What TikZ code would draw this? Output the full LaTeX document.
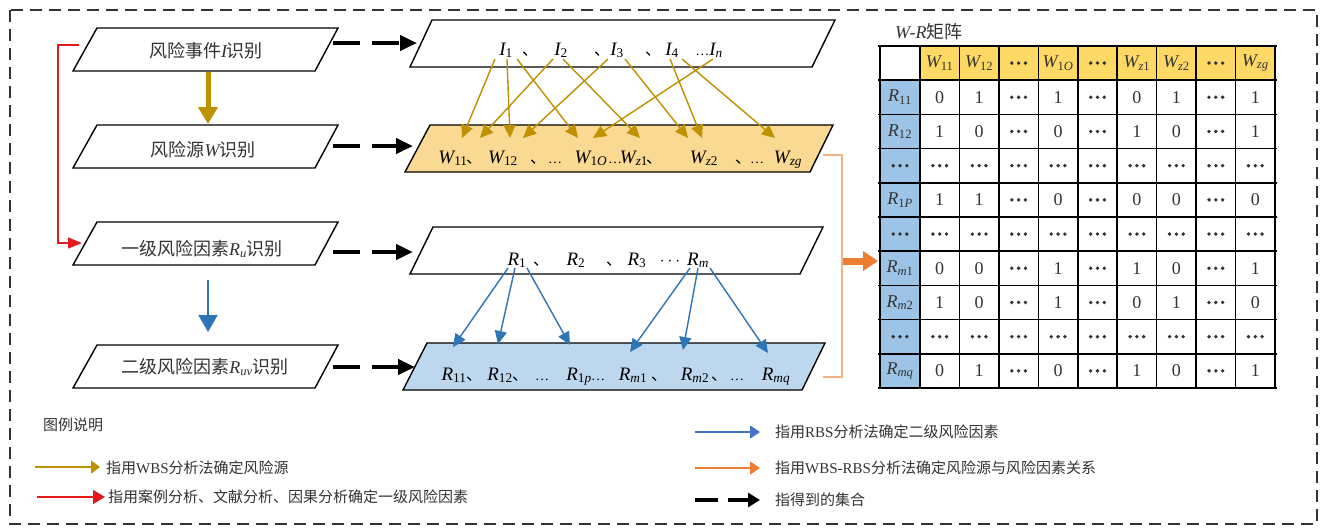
\documentclass[tikz,border=0pt]{standalone}
\usepackage{fontspec}
\newfontfamily\cjk{Noto Sans CJK SC}
\newfontfamily\tnr{Liberation Serif}
\usetikzlibrary{arrows.meta}
\definecolor{gold}{HTML}{BF9000}
\definecolor{goldfill}{HTML}{FADA92}
\definecolor{hdrgold}{HTML}{FFD966}
\definecolor{blu}{HTML}{2E75B6}
\definecolor{blulg}{HTML}{4472C4}
\definecolor{blufill}{HTML}{BDD7EE}
\definecolor{hdrblue}{HTML}{9DC3E6}
\definecolor{org}{HTML}{ED7D31}
\definecolor{orgl}{HTML}{F4B183}
\definecolor{redc}{HTML}{E31A1C}
\definecolor{txt}{HTML}{333333}
\newcommand\mvar[1]{{\tnr\itshape #1}}
\newcommand\msub[2]{{\tnr\itshape #1\textsubscript{\upshape #2}}}
\newcommand\bdots{\tikz[baseline=-2pt]{\fill (0pt,0pt) circle (1.9pt) (6.8pt,0pt) circle (1.9pt) (13.6pt,0pt) circle (1.9pt);}}
\newcommand\dun{\makebox[0.45em][l]{、}}
\begin{document}
\begin{tikzpicture}[x=1pt,y=-1pt,
  lbox/.style={draw=black, line width=1.4pt, line join=miter},
  ltext/.style={font=\cjk\fontsize{18}{20}\selectfont, text=txt, inner sep=0pt},
  tok/.style={font=\tnr\fontsize{19}{21}\selectfont, inner sep=0pt, anchor=base},
  sepc/.style={font=\cjk\fontsize{16}{18}\selectfont, inner sep=0pt, anchor=base west},
  cell/.style={font=\tnr\fontsize{18}{20}\selectfont, text=txt, inner sep=0pt, anchor=center},
  lgt/.style={font=\cjk\fontsize{15}{17}\selectfont, text=txt, inner sep=0pt, anchor=west},
  darrow/.style={line width=4.5pt, dash pattern=on 27pt off 12pt, -{Triangle[length=17pt,width=15pt]}},
  garrow/.style={gold, line width=1.4pt, -{Triangle[length=13pt,width=12pt]}},
  barrow/.style={blu, line width=1.4pt, -{Triangle[length=13pt,width=12pt]}}]
\useasboundingbox (0,0) rectangle (1324,531);
\fill[white] (0,0) rectangle (1324,531);
\draw[txt, line width=1.3pt, dash pattern=on 12pt off 7pt] (10,10) rectangle (1317,524);

% left boxes
\foreach \t/\b in {28/71,125/168,222/265,345/388}
  \draw[lbox] (97,\t) -- (338,\t) -- (315,\b) -- (73,\b) -- cycle;
\node[ltext] (L1) at (206,51) {风险事件\mvar{I}识别};
\node[ltext] (L2) at (203,150) {风险源\mvar{W}识别};
\node[ltext] (L3) at (202,249) {一级风险因素\msub{R}{\textit{u}}识别};
\node[ltext] (L4) at (205,367) {二级风险因素\msub{R}{\textit{uv}}识别};

% right boxes
\draw[lbox] (432,20) -- (835,20) -- (812,67) -- (410,67) -- cycle;
\draw[lbox, fill=goldfill] (430,125) -- (833,125) -- (810,172) -- (405,172) -- cycle;
\draw[lbox] (433,227) -- (823,227) -- (800,274) -- (410,274) -- cycle;
\draw[lbox, fill=blufill] (427,343) -- (825,343) -- (802,390) -- (403,390) -- cycle;

% row 1 tokens
\node[tok] (i1) at (506,55) {\msub{I}{1}};
\node[sepc] (s11) at (522,55) {\dun};
\node[tok] (i2) at (561,55) {\msub{I}{2}};
\node[sepc] (s12) at (594,55) {\dun};
\node[tok] (i3) at (617,55) {\msub{I}{3}};
\node[sepc] (s13) at (645,55) {\dun};
\node[tok] (i4) at (672,55) {\msub{I}{4}};
\node[tok] (in) at (709,55) {{\fontsize{14}{14}\selectfont …}\msub{I}{\textit{n}}};

% row 2 tokens
\node[tok] (w11) at (453,163) {\msub{W}{11}};
\node[sepc] (s21) at (466,163) {\dun};
\node[tok] (w12) at (503,163) {\msub{W}{12}};
\node[sepc] (s22) at (530,163) {\dun};
\node[tok] (e21) at (555,163) {{\fontsize{14}{14}\selectfont …}};
\node[tok] (w1o) at (591,163) {\msub{W}{1\textit{O}}};
\node[tok] (e22) at (615,163) {{\fontsize{14}{14}\selectfont …}};
\node[tok] (wz1) at (634,163) {\msub{W}{\textit{z}1}};
\node[sepc] (s23) at (646,163) {\dun};
\node[tok] (wz2) at (704,163) {\msub{W}{\textit{z}2}};
\node[sepc] (s24) at (735,163) {\dun};
\node[tok] (e23) at (757,163) {{\fontsize{14}{14}\selectfont …}};
\node[tok] (wzg) at (788,163) {\msub{W}{\textit{zg}}};

% row 3 tokens
\node[tok] (r1) at (517,265) {\msub{R}{1}};
\node[sepc] (s31) at (533,265) {\dun};
\node[tok] (r2) at (576,265) {\msub{R}{2}};
\node[sepc] (s32) at (606,265) {\dun};
\node[tok] (r3) at (637,265) {\msub{R}{3}};
\node[tok] (e31) at (670,265) {$\cdots$};
\node[tok] (rm) at (698,265) {\msub{R}{\textit{m}}};

% row 4 tokens
\node[tok] (r11) at (454,380) {\msub{R}{11}};
\node[sepc] (s41) at (466,380) {\dun};
\node[tok] (r12) at (500,380) {\msub{R}{12}};
\node[sepc] (s42) at (512,380) {\dun};
\node[tok] (e41) at (542,380) {{\fontsize{14}{14}\selectfont …}};
\node[tok] (r1p) at (579,380) {\msub{R}{1\textit{p}}};
\node[tok] (e42) at (598,380) {{\fontsize{14}{14}\selectfont …}};
\node[tok] (rm1) at (633,380) {\msub{R}{\textit{m}1}};
\node[sepc] (s43) at (651,380) {\dun};
\node[tok] (rm2) at (695,380) {\msub{R}{\textit{m}2}};
\node[sepc] (s44) at (711,380) {\dun};
\node[tok] (e43) at (737,380) {{\fontsize{14}{14}\selectfont …}};
\node[tok] (rmq) at (776,380) {\msub{R}{\textit{mq}}};

% gold arrows I -> W
\foreach \sx/\ex [count=\k] in {495/462, 507/510, 517/578, 553/480, 563/640, 608/523, 625/688, 670/702, 682/775, 713/593}{
  \coordinate (gs\k) at (\sx,59);
  \coordinate (ge\k) at (\ex,138);
  \draw[garrow] (gs\k) -- (ge\k);
}
% blue arrows R -> R
\foreach \sx/\ex/\ey [count=\k] in {508/453/347, 515/498/344, 527/570/345, 690/630/352, 698/683/350, 710/768/353}{
  \coordinate (bs\k) at (\sx,268);
  \coordinate (be\k) at (\ex,\ey);
  \draw[barrow] (bs\k) -- (be\k);
}

% dashed arrows
\foreach \y/\tx [count=\k] in {43/417, 146/413, 252/413, 367/415}{
  \coordinate (ds\k) at (333,\y);
  \coordinate (de\k) at (\tx,\y);
  \draw[darrow] (ds\k) -- (de\k);
}

% vertical arrows
\coordinate (g1) at (208,72); \coordinate (g2) at (208,124);
\draw[gold, line width=5pt, -{Triangle[length=17pt,width=19pt]}] (g1) -- (g2);
\coordinate (b1) at (208,280); \coordinate (b2) at (208,332);
\draw[blu, line width=2pt, -{Triangle[length=17pt,width=19pt]}] (b1) -- (b2);

% red connector
\coordinate (rs) at (79,45); \coordinate (re) at (82,243);
\draw[redc, line width=1.4pt, -{Triangle[length=14pt,width=11pt]}] (rs) -- (58,45) -- (58,243) -- (re);

% orange bracket and arrow
\coordinate (o1) at (823,155); \coordinate (o2) at (823,377);
\draw[orgl, line width=1.5pt] (o1) -- (842,155) -- (842,377) -- (o2);
\coordinate (oa) at (843,261); \coordinate (ob) at (878,261);
\draw[org, line width=7pt, -{Triangle[length=15pt,width=19pt]}] (oa) -- (ob);

% matrix
\node[font=\fontsize{18}{20}\selectfont, text=txt, anchor=west, inner sep=0pt] (mt) at (895,32) {\mvar{W-R}{\cjk 矩阵}};
\fill[hdrgold] (920,46) rectangle (1275,80.2);
\fill[hdrblue] (880,80.2) rectangle (920,388);
\foreach \i in {0,...,10}
  \draw[line width=1.6pt] (878.2,{46+\i*34.2}) -- (1276.8,{46+\i*34.2});
\draw[line width=1.6pt] (880,46) -- (880,388);
\foreach \j in {0,...,9}
  \draw[line width=1.6pt] ({920+\j*39.44},46) -- ({920+\j*39.44},388);
\foreach \h [count=\j] in {\msub{W}{11}, \msub{W}{12}, \bdots, \msub{W}{1\textit{O}}, \bdots, \msub{W}{\textit{z}1}, \msub{W}{\textit{z}2}, \bdots, \msub{W}{\textit{zg}}}
  \node[cell] (h\j) at ({920+(\j-0.5)*39.44},63.1) {\h};
\foreach \rh/\vals [count=\i] in {
  {\msub{R}{11}}/{0,1,\bdots,1,\bdots,0,1,\bdots,1},
  {\msub{R}{12}}/{1,0,\bdots,0,\bdots,1,0,\bdots,1},
  {\bdots}/{\bdots,\bdots,\bdots,\bdots,\bdots,\bdots,\bdots,\bdots,\bdots},
  {\msub{R}{1\textit{P}}}/{1,1,\bdots,0,\bdots,0,0,\bdots,0},
  {\bdots}/{\bdots,\bdots,\bdots,\bdots,\bdots,\bdots,\bdots,\bdots,\bdots},
  {\msub{R}{\textit{m}1}}/{0,0,\bdots,1,\bdots,1,0,\bdots,1},
  {\msub{R}{\textit{m}2}}/{1,0,\bdots,1,\bdots,0,1,\bdots,0},
  {\bdots}/{\bdots,\bdots,\bdots,\bdots,\bdots,\bdots,\bdots,\bdots,\bdots},
  {\msub{R}{\textit{mq}}}/{0,1,\bdots,0,\bdots,1,0,\bdots,1}}{
  \node[cell] (rh\i) at (900,{46+(\i+0.5)*34.2}) {\rh};
  \foreach \v [count=\j] in \vals
    \node[cell] (c\i-\j) at ({920+(\j-0.5)*39.44},{46+(\i+0.5)*34.2}) {\v};
}

% legend
\node[lgt] (lg) at (43,425) {图例说明};
\coordinate (lg1a) at (35,467); \coordinate (lg1b) at (100,467);
\draw[gold, line width=1.5pt, -{Triangle[length=9pt,width=13pt]}] (lg1a) -- (lg1b);
\node[lgt] (lt1) at (106,468) {指用{\tnr WBS}分析法确定风险源};
\coordinate (lg2a) at (37,497); \coordinate (lg2b) at (105,497);
\draw[redc, line width=1.5pt, -{Triangle[length=12pt,width=14pt]}] (lg2a) -- (lg2b);
\node[lgt] (lt2) at (108,497) {指用案例分析、文献分析、因果分析确定一级风险因素};
\coordinate (lg3a) at (695,432); \coordinate (lg3b) at (760,432);
\draw[blulg, line width=1.3pt, -{Triangle[length=10pt,width=13pt]}] (lg3a) -- (lg3b);
\node[lgt] (lt3) at (775,432) {指用{\tnr RBS}分析法确定二级风险因素};
\coordinate (lg4a) at (695,468); \coordinate (lg4b) at (760,468);
\draw[org, line width=1.3pt, -{Triangle[length=10pt,width=13pt]}] (lg4a) -- (lg4b);
\node[lgt] (lt4) at (775,468) {指用{\tnr WBS-RBS}分析法确定风险源与风险因素关系};
\coordinate (lg5a) at (695,500); \coordinate (lg5b) at (760,500);
\draw[line width=4.5pt, dash pattern=on 23pt off 10pt, -{Triangle[length=12pt,width=14pt]}] (lg5a) -- (lg5b);
\node[lgt] (lt5) at (775,500) {指得到的集合};
\end{tikzpicture}
\end{document}
